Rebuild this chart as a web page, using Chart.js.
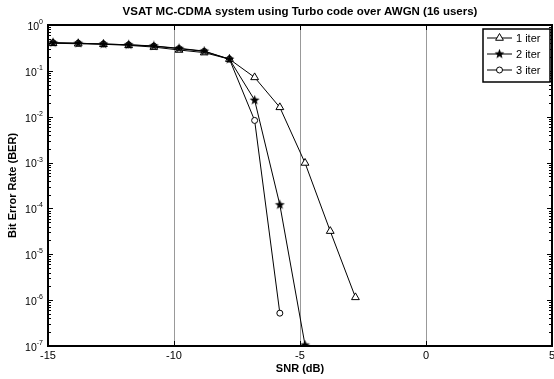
<!DOCTYPE html>
<html>
<head>
<meta charset="utf-8">
<script src="https://cdn.jsdelivr.net/npm/chart.js@4/dist/chart.umd.min.js"></script>
<style>
  html, body { margin: 0; padding: 0; background: #fff; }
  canvas { display: block; }
</style>
</head>
<body>
<canvas id="berChart" width="554" height="379" style="width:554px;height:379px"></canvas>
<script>
// BER vs SNR, 16 users, turbo decoding iterations
const snrDb = [-14.8, -13.8, -12.8, -11.8, -10.8, -9.8, -8.8, -7.8, -6.8, -5.8, -4.8, -3.8, -2.8];
const berIter1 = [0.40, 0.39, 0.38, 0.36, 0.33, 0.285, 0.25, 0.18, 0.072, 0.016, 0.00098, 3.2e-5, 1.15e-6];
const berIter2 = [0.41, 0.40, 0.385, 0.37, 0.35, 0.31, 0.27, 0.18, 0.023, 1.2e-4, 1.05e-7];
const berIter3 = [0.41, 0.40, 0.385, 0.37, 0.345, 0.305, 0.265, 0.18, 0.0083, 5.2e-7];
const seriesNames = ['1 iter', '2 iter', '3 iter'];
const xTicks = [-15, -10, -5, 0, 5];
const yDecades = [0, -1, -2, -3, -4, -5, -6, -7];

const FONT = '"Liberation Sans", Arial, Helvetica, sans-serif';

// filled pentagram marker
function makeStar(size) {
    const c = document.createElement('canvas');
    c.width = size; c.height = size;
    const g = c.getContext('2d');
    const cx = size / 2, cy = size / 2, ro = size / 2 - 0.3, ri = ro * 0.42;
    g.beginPath();
    for (let i = 0; i < 10; i++) {
        const r = i % 2 ? ri : ro;
        const a = -Math.PI / 2 + i * Math.PI / 5;
        g.lineTo(cx + r * Math.cos(a), cy + r * Math.sin(a));
    }
    g.closePath();
    g.fillStyle = '#000';
    g.fill();
    return c;
}
const starImg = makeStar(11);

const toPoints = ys => ys.map((y, i) => ({ x: snrDb[i], y }));

// stars drawn on top (lowest order)
const markerStyles = [
    { pointStyle: 'triangle', pointRadius: 4.5, pointBackgroundColor: '#fff', order: 1 },
    { pointStyle: starImg, pointRadius: 5, pointBackgroundColor: '#000', order: 0 },
    { pointStyle: 'circle', pointRadius: 3, pointBackgroundColor: '#fff', order: 2 }
];

const frameAndText = {
    id: 'frameAndText',
    afterDraw(chart) {
        const ctx = chart.ctx;
        const a = chart.chartArea;
        const xs = chart.scales.x, ys = chart.scales.y;
        ctx.save();
        ctx.strokeStyle = '#000';

        // y ticks, log minor ticks on both sides
        ctx.lineWidth = 1;
        ctx.beginPath();
        yDecades.forEach(k => {
            for (let m = 1; m <= 9; m++) {
                if (k === 0 && m > 1) break;
                const py = Math.round(ys.getPixelForValue(m * Math.pow(10, k))) + 0.5;
                const len = m === 1 ? 5 : 3;
                ctx.moveTo(a.left, py); ctx.lineTo(a.left + len, py);
                ctx.moveTo(a.right, py); ctx.lineTo(a.right - len, py);
            }
        });
        xTicks.forEach(v => {
            const px = Math.round(xs.getPixelForValue(v)) + 0.5;
            ctx.moveTo(px, a.bottom); ctx.lineTo(px, a.bottom - 5);
            ctx.moveTo(px, a.top); ctx.lineTo(px, a.top + 5);
        });
        ctx.stroke();

        // axes frame
        ctx.lineWidth = 2;
        ctx.strokeRect(a.left, a.top, a.right - a.left, a.bottom - a.top);

        // tick labels
        ctx.fillStyle = '#000';
        ctx.font = '11px ' + FONT;
        ctx.textAlign = 'center';
        ctx.textBaseline = 'top';
        xTicks.forEach(v => ctx.fillText(String(v), xs.getPixelForValue(v), a.bottom + 4));

        yDecades.forEach(k => {
            const py = ys.getPixelForValue(Math.pow(10, k));
            const exp = String(k);
            ctx.font = '7px ' + FONT;
            const ew = ctx.measureText(exp).width;
            ctx.textAlign = 'left';
            ctx.textBaseline = 'alphabetic';
            ctx.fillText(exp, a.left - 5 - ew, py - 1);
            ctx.font = '10.5px ' + FONT;
            ctx.textAlign = 'right';
            ctx.textBaseline = 'middle';
            ctx.fillText('10', a.left - 5 - ew, py + 2);
        });

        // title and axis labels
        ctx.font = 'bold 11.5px ' + FONT;
        ctx.textAlign = 'center';
        ctx.textBaseline = 'middle';
        ctx.fillText('VSAT MC-CDMA system using Turbo code over AWGN (16 users)', (a.left + a.right) / 2, 12);
        ctx.font = 'bold 11px ' + FONT;
        ctx.fillText('SNR (dB)', (a.left + a.right) / 2, 369);
        ctx.save();
        ctx.translate(13, (a.top + a.bottom) / 2);
        ctx.rotate(-Math.PI / 2);
        ctx.fillText('Bit Error Rate (BER)', 0, 0);
        ctx.restore();

        // legend box
        const lx = 483, ly = 29, lw = 67, lh = 53;
        ctx.fillStyle = '#fff';
        ctx.fillRect(lx, ly, lw, lh);
        ctx.lineWidth = 1.5;
        ctx.strokeRect(lx, ly, lw, lh);
        seriesNames.forEach((name, i) => {
            const cy = 38 + i * 16;
            ctx.lineWidth = 1;
            ctx.strokeStyle = '#000';
            ctx.beginPath();
            ctx.moveTo(487, cy); ctx.lineTo(512, cy);
            ctx.stroke();
            const st = markerStyles[i];
            ctx.fillStyle = st.pointBackgroundColor;
            Chart.helpers.drawPoint(ctx, {
                pointStyle: st.pointStyle, radius: st.pointRadius, borderWidth: 1, rotation: 0
            }, 499.5, cy);
            ctx.fillStyle = '#000';
            ctx.font = '11px ' + FONT;
            ctx.textAlign = 'left';
            ctx.textBaseline = 'middle';
            ctx.fillText(name, 516, cy + 0.5);
        });
        ctx.restore();
    }
};

const datasets = [berIter1, berIter2, berIter3].map((ys, i) => Object.assign({
    label: seriesNames[i],
    data: toPoints(ys),
    borderColor: '#000',
    borderWidth: 1,
    pointBorderColor: '#000',
    pointBorderWidth: 1,
    showLine: true,
    tension: 0
}, markerStyles[i]));

new Chart(document.getElementById('berChart').getContext('2d'), {
    type: 'scatter',
    data: { datasets },
    options: {
        responsive: false,
        animation: false,
        layout: { autoPadding: false, padding: { left: 48, right: 2, top: 25, bottom: 33 } },
        plugins: { legend: { display: false }, tooltip: { enabled: false } },
        scales: {
            x: {
                type: 'linear', min: -15, max: 5,
                afterBuildTicks: scale => { scale.ticks = xTicks.map(v => ({ value: v })); },
                ticks: { display: false },
                grid: { color: '#999', lineWidth: 1, drawTicks: false },
                border: { display: false }
            },
            y: {
                type: 'logarithmic', min: 1e-7, max: 1,
                ticks: { display: false },
                grid: { display: false, drawTicks: false },
                border: { display: false }
            }
        }
    },
    plugins: [frameAndText]
});
</script>
</body>
</html>
